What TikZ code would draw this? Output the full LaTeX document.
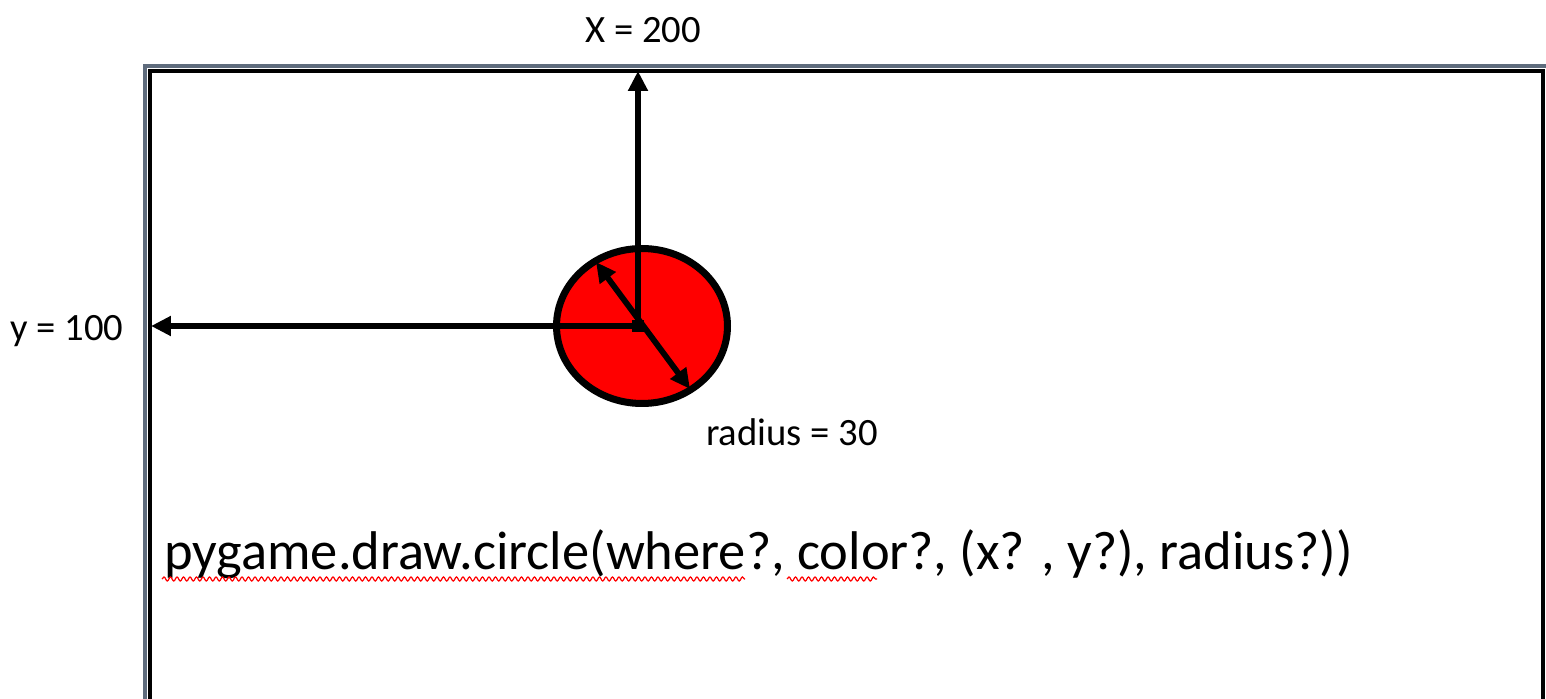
\documentclass[tikz,border=0pt]{standalone}
\usepackage{fontspec}
\setmainfont{Carlito}
\usetikzlibrary{arrows.meta,positioning,decorations.pathmorphing}

\begin{document}
\begin{tikzpicture}[x=0.02cm, y=-0.02cm,
    lbl/.style={font=\fontsize{22}{26}\selectfont, inner sep=0pt},
    axis/.style={line width=3.3pt, -{Triangle[length=0.4cm, width=0.38cm]}},
    spell/.style={red, line width=0.7pt, decorate, decoration={snake, segment length=0.13cm, amplitude=0.04cm}}
]
\useasboundingbox (0,0) rectangle (1546,699);

% frame
\definecolor{framegray}{RGB}{95,108,125}
\draw[line width=2.2pt, framegray] (145,720) -- (145,66) -- (1560,66);
\draw[line width=1.8pt] (150,720) -- (150,71) -- (1543,71) -- (1543,720);

\coordinate (ctr) at (638,326);
\coordinate (topend) at (638,71);
\coordinate (leftend) at (151,326);
\coordinate (r1) at (596,262);
\coordinate (r2) at (690,389);

\draw[line width=4pt, fill=red] (642,326) ellipse [x radius=1.71cm, y radius=1.55cm];
\draw[axis] (ctr) -- (topend);
\draw[axis] (ctr) -- (leftend);
\draw[line width=3.3pt, {Triangle[length=0.4cm, width=0.38cm]}-{Triangle[length=0.4cm, width=0.38cm]}] (r1) -- (r2);
\fill (ctr) ++(-6,-6) rectangle ++(12,12);

\node[lbl] (xlab) at (643,30) {X = 200};
\node[lbl] (ylab) at (67,331) {y = 100};
\node[lbl] (rlab) at (792,432) {radius = 30};

\node[font=\fontsize{31}{36}\selectfont, inner sep=0pt, anchor=base west] (call) at (164,569)
  {pygame.draw.circle(where?, color?, (x? , y?), radius?))};

\draw[spell] (162,579) -- (745,579);
\draw[spell] (787,579) -- (877,579);
\end{tikzpicture}
\end{document}
